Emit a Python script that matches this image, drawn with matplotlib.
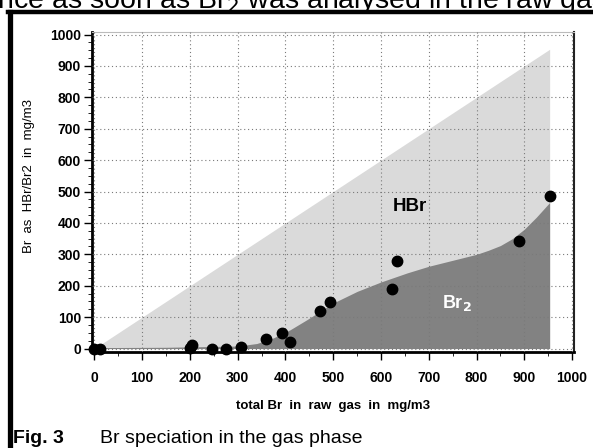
import matplotlib
matplotlib.use("Agg")
import matplotlib.pyplot as plt
from matplotlib.lines import Line2D
from matplotlib.ticker import MultipleLocator

plt.rcParams['font.family'] = ['Liberation Sans', 'DejaVu Sans']

# measured points: total Br in raw gas vs Br2
pts_x = [0, 12, 200, 204, 247, 275, 307, 359, 393, 410, 473, 493, 623, 634, 888, 954]
pts_y = [0, 0, 3, 12, 0, 0, 5, 30, 50, 20, 120, 147, 191, 278, 341, 487]

# total Br (HBr + Br2) envelope
total_x = [0, 953]
total_y = [0, 953]

# Br2 fraction curve
br2_x = [0, 150, 300, 340, 375, 410, 445, 500, 550, 600, 655, 700, 750, 800, 825, 850, 875, 900, 925, 953]
br2_y = [3, 4, 8, 16, 34, 60, 92, 145, 182, 212, 241, 262, 281, 300, 313, 328, 350, 380, 418, 465]

xticks = [0, 100, 200, 300, 400, 500, 600, 700, 800, 900, 1000]
yticks = [0, 100, 200, 300, 400, 500, 600, 700, 800, 900, 1000]

fig = plt.figure(figsize=(5.93, 4.48), dpi=100)
ax = fig.add_axes([92/593, 1-352/448, (574-92)/593, (352-32)/448])

ax.fill_between(total_x, 0, total_y, color='#dadada', lw=0, zorder=1)
ax.fill_between(br2_x, 0, br2_y, color='#828282', lw=0, zorder=1.1)
ax.plot(pts_x, pts_y, 'o', color='black', ms=7.5, zorder=3, clip_on=False)

ax.set_xlim(-5, 1004)
ax.set_ylim(-11, 1008)
ax.set_xticks(xticks)
ax.set_yticks(yticks)
ax.xaxis.set_minor_locator(MultipleLocator(50))
ax.yaxis.set_minor_locator(MultipleLocator(25))
ax.set_axisbelow(False)
ax.grid(True, which='major', color='#7a7a7a', linestyle=(0, (1, 2.5)), lw=0.8)
ax.tick_params(which='major', direction='out', length=5.5, width=1, labelsize=10)
ax.tick_params(axis='x', which='major', pad=8)
ax.tick_params(axis='y', which='major', pad=2.5)
ax.tick_params(which='minor', direction='out', length=3, width=0.6)
for lab in ax.get_xticklabels() + ax.get_yticklabels():
    lab.set_fontweight('bold')

for s in ['left', 'bottom']:
    ax.spines[s].set_linewidth(2)
    ax.spines[s].set_color('black')
ax.spines['right'].set_linewidth(1.5)
ax.spines['right'].set_color('#222222')
ax.spines['top'].set_linewidth(0.8)
ax.spines['top'].set_color('#bbbbbb')

ax.set_xlabel('total Br  in  raw  gas  in  mg/m3', fontsize=9.5, fontweight='bold', labelpad=11)
ax.set_ylabel('Br  as  HBr/Br2  in  mg/m3', fontsize=9.5)
ax.yaxis.set_label_coords(-0.118, 0.55)

ax.text(661, 453, 'HBr', fontsize=13.5, fontweight='bold', ha='center', va='center', zorder=4)
ax.text(759, 146, 'Br$_\\mathbf{2}$', fontsize=13, fontweight='bold', color='white',
        ha='center', va='center', zorder=4)

# page frame
fig.add_artist(Line2D([8/593, 1.0], [1-12/448, 1-12/448], color='black', lw=3.2, transform=fig.transFigure))
fig.add_artist(Line2D([9.5/593, 9.5/593], [0, 1-12/448], color='black', lw=3.8, transform=fig.transFigure))

# cropped text line at top of page (cut off in the source image)
fig.text(-0.03, 1-8/448, 'ance as soon as Br$_2$ was analysed in the raw gas', fontsize=20.5,
         ha='left', va='baseline')

# caption
fig.text(13/593, 1-443/448, 'Fig. 3', fontsize=14, fontweight='bold', ha='left', va='baseline')
fig.text(100/593, 1-443/448, 'Br speciation in the gas phase', fontsize=14, ha='left', va='baseline')

fig.savefig('out.png', dpi=100)
